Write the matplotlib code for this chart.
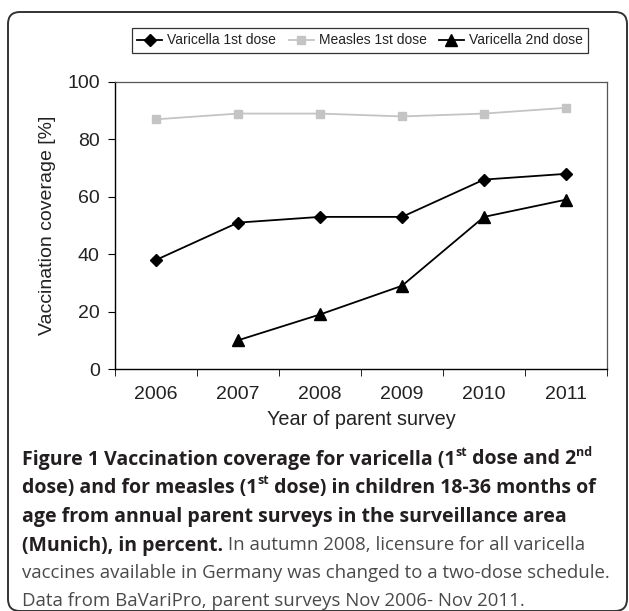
import numpy as np
import matplotlib
matplotlib.use('Agg')
import matplotlib.pyplot as plt
from matplotlib.patches import FancyBboxPatch
from matplotlib.transforms import IdentityTransform

years = ['2006', '2007', '2008', '2009', '2010', '2011']
varicella_1st = [38, 51, 53, 53, 66, 68]
measles_1st = [87, 89, 89, 88, 89, 91]
varicella_2nd = [np.nan, 10, 19, 29, 53, 59]
series_names = ['Varicella 1st dose', 'Measles 1st dose', 'Varicella 2nd dose']

caption_lines = [
    [("Figure 1 Vaccination coverage for varicella (1", 'b'), ("st", 'bs'), (" dose and 2", 'b'), ("nd", 'bs')],
    [("dose) and for measles (1", 'b'), ("st", 'bs'), (" dose) in children 18-36 months of", 'b')],
    [("age from annual parent surveys in the surveillance area", 'b')],
    [("(Munich), in percent.", 'b'), (" In autumn 2008, licensure for all varicella", 'n')],
    [("vaccines available in Germany was changed to a two-dose schedule.", 'n')],
    [("Data from BaVariPro, parent surveys Nov 2006- Nov 2011.", 'n')],
]

W, H = 629, 611
fig = plt.figure(figsize=(W / 100, H / 100), dpi=100)
plt.rcParams['font.family'] = ['Liberation Sans', 'DejaVu Sans']

# outer rounded frame (bottom edge runs off the picture)
frame = FancyBboxPatch((8, 0), 619, 599, boxstyle='round,pad=0,rounding_size=12',
                       transform=IdentityTransform(), fill=False, edgecolor='#333333', lw=1.4)
fig.patches.append(frame)

ax = fig.add_axes([115 / W, 1 - 369 / H, (607 - 115) / W, (369 - 82) / H])
x = np.arange(len(years))
l1, = ax.plot(x, varicella_1st, color='black', lw=1.3, marker='D', ms=6, label=series_names[0])
l2, = ax.plot(x, measles_1st, color='#c4c4c4', lw=1.3, marker='s', ms=5.5, label=series_names[1])
l3, = ax.plot(x, varicella_2nd, color='black', lw=1.3, marker='^', ms=8, label=series_names[2])

ax.set_xlim(-0.5, len(years) - 0.5)
ax.set_ylim(0, 100)
ax.set_yticks([0, 20, 40, 60, 80, 100])
ax.set_xticks(x)
ax.set_xticklabels(years)
ax.set_xticks(np.arange(-0.5, len(years)), minor=True)
ax.tick_params(axis='x', which='major', length=0, pad=12, labelsize=14, labelcolor='#222222')
ax.tick_params(axis='x', which='minor', length=5, direction='out', color='black')
ax.tick_params(axis='y', length=5, direction='out', pad=6, labelsize=14, labelcolor='#222222')
ax.set_xlabel('Year of parent survey', fontsize=14.3, color='#222222', labelpad=5)
ax.set_ylabel('Vaccination coverage [%]', fontsize=14, color='#222222', labelpad=8)
for s in ['top', 'right']:
    ax.spines[s].set_color('#555555')
    ax.spines[s].set_linewidth(0.9)
for s in ['left', 'bottom']:
    ax.spines[s].set_color('black')
    ax.spines[s].set_linewidth(1.0)

leg = fig.legend(handles=[l1, l2, l3], loc='center', bbox_to_anchor=(360 / W, 1 - 40.5 / H),
                 ncol=3, fontsize=10, frameon=True, fancybox=False, edgecolor='black',
                 handlelength=1.8, handletextpad=0.36, columnspacing=0.9, borderpad=0.4,
                 borderaxespad=0)
leg.get_frame().set_linewidth(0.9)
for t in leg.get_texts():
    t.set_color('#222222')

# caption with bold/regular runs and superscripts
renderer = fig.canvas.get_renderer()
styles = {
    'b': dict(family='Open Sans', weight='bold', size=14.4, color='#231f20'),
    'bs': dict(family='Open Sans', weight='bold', size=9.2, color='#231f20'),
    'n': dict(family='Open Sans', weight='normal', size=14.4, color='#4a4a4a'),
}


def seg_width(txt, st):
    t1 = fig.text(0, 0, '|' + txt + '|', **styles[st])
    t2 = fig.text(0, 0, '||', **styles[st])
    w = t1.get_window_extent(renderer).width - t2.get_window_extent(renderer).width
    t1.remove()
    t2.remove()
    return w


def line_width(line):
    return sum(seg_width(txt, st) for txt, st in line)


# fit the two text weights to the widths of caption lines 3 and 5
k = 544 / line_width(caption_lines[2])
styles['b']['size'] *= k
styles['bs']['size'] *= k
styles['n']['size'] *= 590 / line_width(caption_lines[4])

line_y = [457, 486, 514.5, 543, 571, 599]
for line, yy in zip(caption_lines, line_y):
    xx = 22
    for txt, st in line:
        dy = -6.5 if st == 'bs' else 0
        fig.text(xx / W, 1 - (yy + dy) / H, txt, ha='left', va='center_baseline', **styles[st])
        xx += seg_width(txt, st)

fig.savefig('out.png', dpi=100)
